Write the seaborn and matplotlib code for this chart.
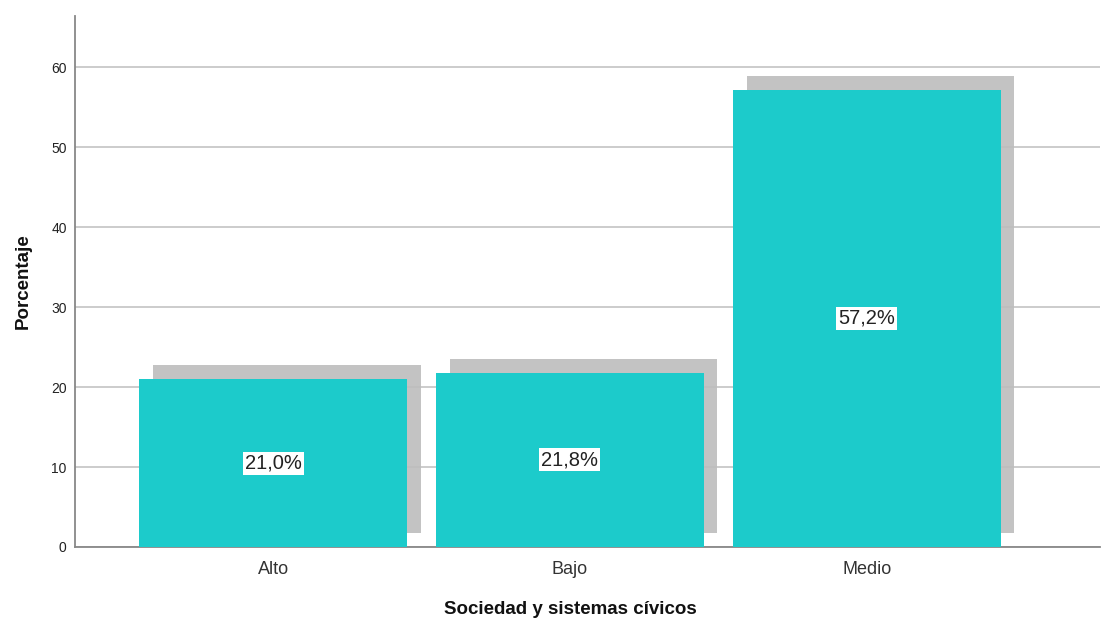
import matplotlib
matplotlib.use("Agg")
import matplotlib.pyplot as plt
import matplotlib.patheffects as pe
import seaborn as sns
import pandas as pd

# Data
categories = ["Alto", "Bajo", "Medio"]
percentages = [21.0, 21.8, 57.2]
value_labels = ["21,0%", "21,8%", "57,2%"]
y_ticks = [0, 10, 20, 30, 40, 50, 60]

BAR_COLOR = "#1ccbcb"
SHADOW_COLOR = "#bdbdbd"

sns.set_theme(style="white")
plt.rcParams["font.family"] = ["Liberation Sans", "DejaVu Sans"]

df = pd.DataFrame({"nivel": categories, "pct": percentages})

fig = plt.figure(figsize=(11.05, 6.24), dpi=100)
ax = fig.add_axes([75 / 1105, 77 / 624, 1025 / 1105, 531 / 624])

sns.barplot(data=df, x="nivel", y="pct", color=BAR_COLOR, width=0.9,
            saturation=1, errorbar=None, ax=ax, zorder=3)

# drop shadow like the SPSS output (up and to the right)
for bar in ax.patches:
    bar.set_edgecolor("none")
    bar.set_path_effects([
        pe.SimplePatchShadow(offset=(10, 10), shadow_rgbFace=SHADOW_COLOR, alpha=0.9),
        pe.Normal(),
    ])

# value labels in white boxes
for i, (v, lab) in enumerate(zip(percentages, value_labels)):
    ax.text(i, v / 2, lab, ha="center", va="center", fontsize=14.5, color="#222222",
            zorder=5, bbox=dict(boxstyle="square,pad=0.1", fc="white", ec="none"))

ax.set_xlim(-0.667, 2.785)
ax.set_ylim(0, 66.4)
ax.set_yticks(y_ticks)
ax.set_yticklabels([str(t) for t in y_ticks], fontsize=10, color="#222222")
ax.tick_params(axis="x", labelsize=13, colors="#333333", length=0, pad=10)
ax.tick_params(axis="y", length=0, pad=6)

ax.yaxis.grid(True, color="#c4c4c4", linewidth=1.2)
ax.set_axisbelow(True)

for side in ["top", "right"]:
    ax.spines[side].set_visible(False)
for side in ["left", "bottom"]:
    ax.spines[side].set_color("#888888")
    ax.spines[side].set_linewidth(1.3)

ax.set_xlabel("")
ax.set_ylabel("Porcentaje", fontsize=13.5, fontweight="bold", color="#111111", labelpad=14)
fig.text(570 / 1105, 1 - 610 / 624, "Sociedad y sistemas cívicos", ha="center", va="center",
         fontsize=13.5, fontweight="bold", color="#111111")

fig.savefig("out.png", dpi=100, facecolor="white")
